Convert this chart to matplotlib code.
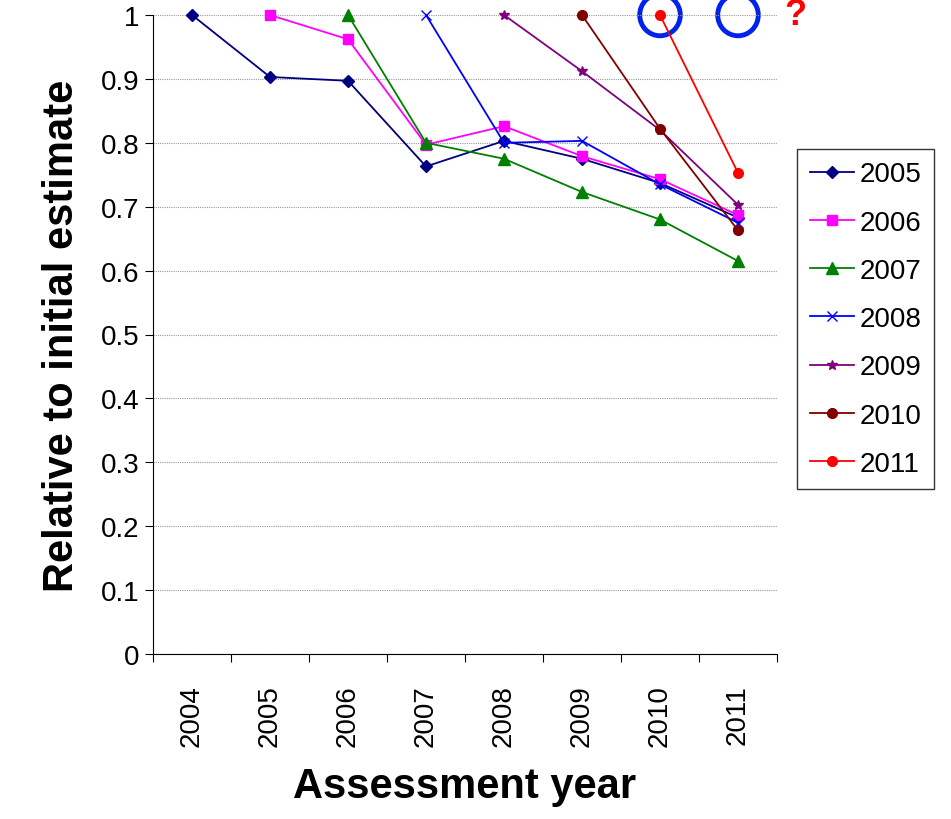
import matplotlib
matplotlib.use("Agg")
import matplotlib.pyplot as plt
import numpy as np
from matplotlib.patches import Ellipse

plt.rcParams['font.family'] = ['Liberation Sans', 'DejaVu Sans']

years = ["2004","2005","2006","2007","2008","2009","2010","2011"]
series_names = ["2005","2006","2007","2008","2009","2010","2011"]
s2005 = [1.0, 0.903, 0.897, 0.763, 0.803, 0.775, 0.737, 0.683]
s2006 = [1.0, 0.962, 0.797, 0.826, 0.779, 0.743, 0.687]
s2007 = [1.0, 0.800, 0.775, 0.723, 0.680, 0.615]
s2008 = [1.0, 0.800, 0.803, 0.735, 0.675]
s2009 = [1.0, 0.912, 0.820, 0.703]
s2010 = [1.0, 0.822, 0.663]
s2011 = [1.0, 0.753]
all_series = [s2005, s2006, s2007, s2008, s2009, s2010, s2011]
colors = ["#000080", "#FF00FF", "#008000", "#0000FF", "#800080", "#800000", "#FF0000"]
markers = ["D", "s", "^", "x", "*", "o", "o"]
msizes = [6, 7, 8, 7, 7, 7, 7]

fig = plt.figure(figsize=(9.51, 8.2), dpi=100)
ax = fig.add_axes([153/951, 1-655/820, (777-153)/951, (655-16)/820])
for i, (name, s) in enumerate(zip(series_names, all_series)):
    start = len(years) - len(s)
    x = np.arange(start, len(years)) + 0.5
    ax.plot(x, s, color=colors[i], marker=markers[i], ms=msizes[i], lw=1.3,
            markeredgecolor=colors[i], label=name, clip_on=False)

ax.set_xlim(0, 8)
ax.set_ylim(0, 1)
ax.set_yticks(np.arange(0, 1.01, 0.1))
ax.set_yticklabels(["0","0.1","0.2","0.3","0.4","0.5","0.6","0.7","0.8","0.9","1"], fontsize=20)
ax.set_xticks(np.arange(0, 9))
ax.set_xticklabels([])
ax.set_xticks(np.arange(8) + 0.5, minor=True)
ax.set_xticklabels(years, minor=True, rotation=90, fontsize=20)
ax.tick_params(axis="x", which="minor", length=0, pad=22)
ax.tick_params(axis="x", which="major", length=6, direction="out")
ax.tick_params(axis="y", length=6, direction="out")
ax.grid(axis="y", color="#999999", lw=0.8, ls=(0, (1, 1)))
for sp in ["top", "right"]:
    ax.spines[sp].set_visible(False)
ax.set_ylabel("Relative to initial estimate", fontsize=30, fontweight="bold", labelpad=14)
ax.set_xlabel("Assessment year", fontsize=30, fontweight="bold", labelpad=14)

for xc in [6.5, 7.5]:
    ax.add_patch(Ellipse((xc, 1.0), 0.52, 0.065, fill=False, ec="#0022EE", lw=3.5, clip_on=False))
ax.text(8.23, 1.0, "?", color="red", fontsize=26, fontweight="bold", ha="center", va="center", clip_on=False)

leg = fig.legend(loc="upper left", bbox_to_anchor=(797/951, 1-150/820), fontsize=20,
                 frameon=True, fancybox=False, edgecolor="black", handlelength=1.6,
                 borderpad=0.45, labelspacing=0.8, handletextpad=0.2, borderaxespad=0)
fig.savefig("out.png", dpi=100)
